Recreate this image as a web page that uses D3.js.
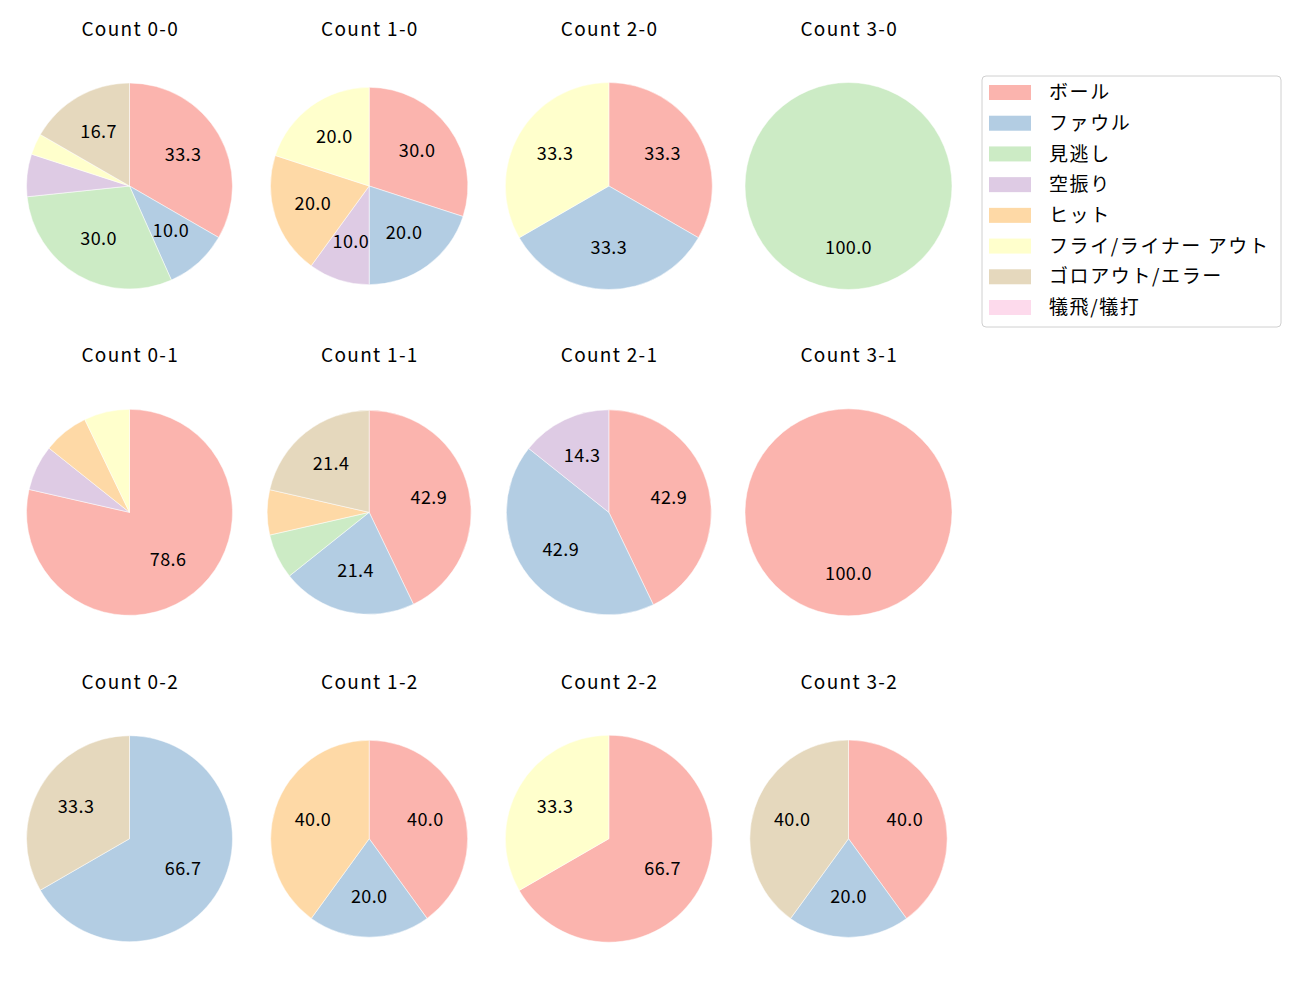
<!DOCTYPE html>
<html>
<head>
<meta charset="utf-8">
<script src="https://cdn.jsdelivr.net/npm/d3@7"></script>
<style>
  body { margin: 0; background: #fff; }
  text { font-family: "Noto Sans CJK JP", "Noto Sans", sans-serif; }
</style>
</head>
<body>
<div id="canvas"></div>
<script>
// pitch result categories (legend order = wedge order)
const categories = ["ボール", "ファウル", "見逃し", "空振り", "ヒット", "フライ/ライナー アウト", "ゴロアウト/エラー", "犠飛/犠打"];
const colors = ["#fbb4ae", "#b3cde3", "#ccebc5", "#decbe4", "#fed9a6", "#ffffcc", "#e5d8bd", "#fddaec"];

// ball-strike counts, row = strikes, column = balls
const balls = [0, 1, 2, 3];
const strikes = [0, 1, 2];

// number of pitches per category, for each count
const counts00 = [10, 3, 9, 2, 0, 1, 5, 0];
const counts10 = [3, 2, 0, 1, 2, 2, 0, 0];
const counts20 = [1, 1, 0, 0, 0, 1, 0, 0];
const counts30 = [0, 0, 1, 0, 0, 0, 0, 0];
const counts01 = [11, 0, 0, 1, 1, 1, 0, 0];
const counts11 = [6, 3, 1, 0, 1, 0, 3, 0];
const counts21 = [3, 3, 0, 1, 0, 0, 0, 0];
const counts31 = [1, 0, 0, 0, 0, 0, 0, 0];
const counts02 = [0, 2, 0, 0, 0, 0, 1, 0];
const counts12 = [2, 1, 0, 0, 2, 0, 0, 0];
const counts22 = [2, 0, 0, 0, 0, 1, 0, 0];
const counts32 = [2, 1, 0, 0, 0, 0, 2, 0];

const grid = [
  [counts00, counts10, counts20, counts30],
  [counts01, counts11, counts21, counts31],
  [counts02, counts12, counts22, counts32]
];

const width = 1300, height = 1000;

// pie radius per panel (the source figure isn't uniform)
const radii = [
  [103, 98.7, 103.5, 103.5],
  [103, 102, 102.5, 103.5],
  [103, 98.5, 103.5, 98.7]
];

const svg = d3.select("#canvas")
  .append("svg")
  .attr("width", width)
  .attr("height", height)
  .attr("viewBox", [0, 0, width, height]);

const x = d3.scaleLinear().domain([0, 3]).range([129.5, 848.5]);
const y = d3.scaleLinear().domain([0, 2]).range([186, 838.7]);

const pie = d3.pie().sort(null).value(d => d.value);

strikes.forEach(s => {
  balls.forEach(b => {
    const values = grid[s][b];
    const total = d3.sum(values);
    const r = radii[s][b];
    const g = svg.append("g").attr("transform", `translate(${x(b)},${y(s)})`);

    g.append("text")
      .attr("x", 0.7)
      .attr("y", -150)
      .attr("text-anchor", "middle")
      .attr("font-size", "19px")
      .attr("letter-spacing", "1.3px")
      .attr("fill", "#000")
      .text(`Count ${b}-${s}`);

    const arcs = pie(values.map((v, i) => ({ value: v, i })));
    const arc = d3.arc().innerRadius(0).outerRadius(r);
    const labelArc = d3.arc().innerRadius(r * 0.6).outerRadius(r * 0.6);

    g.selectAll("path")
      .data(arcs.filter(d => d.data.value > 0))
      .join("path")
      .attr("d", arc)
      .attr("fill", d => colors[d.data.i])
      .attr("stroke", "#fff")
      .attr("stroke-width", 0.5);

    g.selectAll("text.pct")
      .data(arcs.filter(d => d.data.value / total * 100 >= 10))
      .join("text")
      .attr("class", "pct")
      .attr("transform", d => `translate(${labelArc.centroid(d)})`)
      .attr("text-anchor", "middle")
      .attr("dy", "0.3em")
      .attr("font-size", "18px")
      .attr("letter-spacing", "0.4px")
      .attr("fill", "#000")
      .text(d => (d.data.value / total * 100).toFixed(1));
  });
});

// legend
const legend = svg.append("g").attr("transform", "translate(982,76)");
legend.append("rect")
  .attr("width", 299)
  .attr("height", 251)
  .attr("rx", 4)
  .attr("fill", "#fff")
  .attr("fill-opacity", 0.8)
  .attr("stroke", "#d0d0d0");

const row = d3.scaleLinear().domain([0, 7]).range([16.5, 231.5]);
categories.forEach((c, i) => {
  legend.append("rect")
    .attr("x", 7)
    .attr("y", row(i) - 7.5)
    .attr("width", 42)
    .attr("height", 15)
    .attr("fill", colors[i]);
  legend.append("text")
    .attr("x", 67)
    .attr("y", row(i))
    .attr("dy", "0.35em")
    .attr("font-size", "19px")
    .attr("letter-spacing", "1.6px")
    .attr("fill", "#000")
    .text(c);
});
</script>
</body>
</html>
